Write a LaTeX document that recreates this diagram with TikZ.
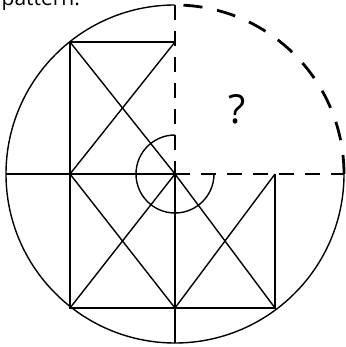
\documentclass[tikz,border=0pt]{standalone}
\usepackage{fontspec}
\setmainfont{Open Sans}
\begin{document}
\begin{tikzpicture}[x=1pt,y=1pt,line width=1.4pt]
\tikzset{guide/.style={line width=2.3pt,dash pattern=on 15pt off 11pt}}
\useasboundingbox (0,0) rectangle (345,347);
\begin{scope}
\clip (0,0) rectangle (345,347);
\node[anchor=base west,font=\fontsize{21}{21}\selectfont,inner sep=0pt] (caption) at (1,341) {pattern.};
\end{scope}

\draw (175,342) arc[start angle=90,end angle=360,radius=169];
\draw[guide,line width=2.8pt,dash pattern=on 19pt off 15pt] (344,173) arc[start angle=0,end angle=90,radius=169];

\draw (70,305) -- (175,305);
\draw (70,305) -- (70,39) -- (275,39) -- (275,173);
\draw (6,173) -- (175,173) -- (175,4);
\draw (70,305) -- (175,173) -- (70,39);
\draw (175,305) -- (70,173) -- (175,39) -- (275,173);
\draw (175,173) -- (275,39);
\draw[guide] (175,342) -- (175,173);
\draw[guide] (175,173) -- (344,173);

\draw (175,212) arc[start angle=90,end angle=360,radius=39];
\node[font=\fontsize{40}{40}\selectfont] (mark) at (237,238) {?};
\end{tikzpicture}
\end{document}
